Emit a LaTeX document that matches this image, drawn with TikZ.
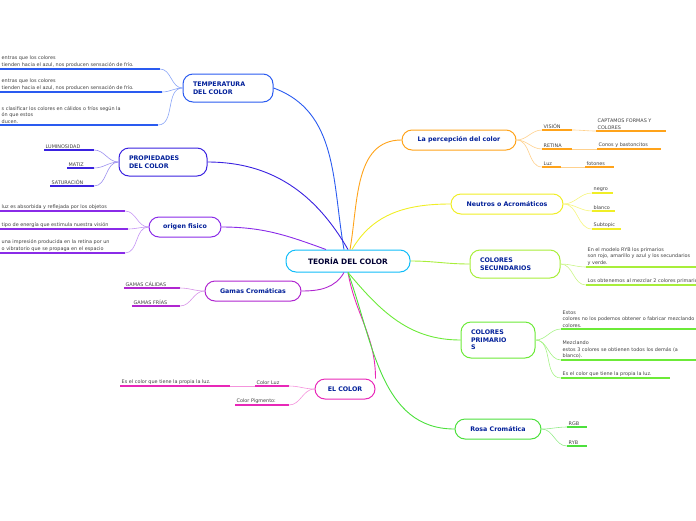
\documentclass[tikz,border=0pt]{standalone}
\usepackage{fontspec}
\setmainfont{DejaVu Sans}
\begin{document}
\begin{tikzpicture}[x=1pt,y=-1pt,
 hub/.style={draw=#1,line width=1pt,rounded corners=10pt,fill=white,font=\fontsize{6.3}{7.6}\selectfont\bfseries,text=black!70!green!40!blue,align=left,inner sep=0pt},
 lf/.style={font=\fontsize{4.9}{6.6}\selectfont,text=black!75,align=left,anchor=south west,inner sep=1.5pt},
 ln/.style={#1,line width=1.3pt},
 cn/.style={#1,line width=0.6pt}]
\useasboundingbox (0,0) rectangle (696,520);
\definecolor{cblue}{HTML}{2A5BF0}\definecolor{cviol}{HTML}{3A22E0}
\definecolor{cpurp}{HTML}{8A2BE8}\definecolor{cmag}{HTML}{B026D0}
\definecolor{cpink}{HTML}{E828B8}\definecolor{cgreen}{HTML}{4CE03C}
\definecolor{cgr2}{HTML}{6CEA38}\definecolor{clime}{HTML}{A8EE3A}
\definecolor{cyel}{HTML}{F0EE26}\definecolor{corg}{HTML}{FFA31A}
% hubs
\node[hub=cblue!40!cyan,minimum width=124pt,minimum height=22pt,align=center,font=\fontsize{7.4}{9}\selectfont\bfseries,text=black!80!blue] (c) at (348,261) {TEORÍA DEL COLOR};
\node[hub=cblue,minimum width=90pt,minimum height=28pt,text width=70pt] (t) at (228,88) {TEMPERATURA\\DEL COLOR};
\node[hub=cviol,minimum width=88pt,minimum height=28pt,text width=68pt] (p) at (163,162) {PROPIEDADES\\DEL COLOR};
\node[hub=cpurp,minimum width=72pt,minimum height=20pt,align=center] (o) at (185,227) {origen fisico};
\node[hub=cmag,minimum width=96pt,minimum height=20pt,align=center] (g) at (253,291) {Gamas Cromáticas};
\node[hub=cpink,minimum width=60pt,minimum height=20pt,align=center] (e) at (345,389) {EL COLOR};
\node[hub=cgreen,minimum width=86pt,minimum height=20pt,align=center] (r) at (498,429) {Rosa Cromática};
\node[hub=cgr2,minimum width=74pt,minimum height=36pt,text width=54pt] (pr) at (498,340) {COLORES\\PRIMARIO\\S};
\node[hub=clime,minimum width=90pt,minimum height=28pt,text width=70pt] (s) at (515,264) {COLORES\\SECUNDARIOS};
\node[hub=cyel,minimum width=112pt,minimum height=20pt,align=center] (n) at (507,204) {Neutros o Acromáticos};
\node[hub=corg,minimum width=114pt,minimum height=20pt,align=center] (l) at (459,140) {La percepción del color};
% central connectors
\begin{scope}[line width=0.9pt]
\draw[cblue] (c.north) ++(-4,0) coordinate(c1) (c1) to[out=100,in=-20] (t.east);
\draw[cviol] (c.north) to[out=120,in=0] (p.east);
\draw[cpurp] (c.north) ++(-22,0) coordinate(c2) (c2) to[out=160,in=0] (o.east);
\draw[cmag] (c.south) ++(-4,0) coordinate(c3) (c3) to[out=-120,in=0] (g.east);
\draw[cpink] (c.south) to[out=-80,in=90] (e.north east);
\draw[cgreen] (c.south) to[out=-70,in=180] (r.west);
\draw[cgr2] (c.south) to[out=-50,in=180] (pr.west);
\draw[clime] (c.east) to[out=0,in=180] (s.west);
\draw[cyel] (c.north) ++(4,0) coordinate(c4) (c4) to[out=60,in=180] (n.west);
\draw[corg] (c.north) ++(2,0) coordinate(c5) (c5) to[out=80,in=180] (l.west);
\end{scope}
\newcommand{\lfm}[6]{\coordinate (#1a) at (#2,#4);\coordinate (#1b) at (#3,#4);\draw[ln=#5] (#1a)--(#1b);\node[lf] (#1t) at (#2,#4) {#6};}
% temperature
\lfm{t1}{0}{160}{69}{cblue}{entras que los colores\\ tienden hacia el azul, nos producen sensación de frío.}
\lfm{t2}{0}{162}{92}{cblue}{entras que los colores\\ tienden hacia el azul, nos producen sensación de frío.}
\lfm{t3}{0}{158}{125}{cblue}{s clasificar los colores en cálidos o fríos según la\\ón que estos\\ducen.}
\foreach \i in {t1,t2,t3}\draw[cn=cblue!55] (t.west) to[out=180,in=0] (\i b);
% propiedades
\lfm{p1}{44}{94}{150}{cviol}{LUMINOSIDAD}
\lfm{p2}{67}{94}{168}{cviol}{MATIZ}
\lfm{p3}{50}{94}{186}{cviol}{SATURACIÓN}
\foreach \i in {p1,p2,p3}\draw[cn=cviol!50] (p.west) to[out=180,in=0] (\i b);
% origen
\lfm{o1}{0}{125}{211}{cpurp}{luz es absorbida y reflejada por los objetos}
\lfm{o2}{0}{128}{229}{cpurp}{tipo de energía que estimula nuestra visión}
\lfm{o3}{0}{125}{253}{cpurp}{una impresión producida en la retina por un\\o vibratorio que se propaga en el espacio}
\foreach \i in {o1,o2,o3}\draw[cn=cpurp!50] (o.west) to[out=180,in=0] (\i b);
% gamas
\lfm{g1}{124}{180}{288}{cmag}{GAMAS CÁLIDAS}
\lfm{g2}{132}{180}{306}{cmag}{GAMAS FRÍAS}
\foreach \i in {g1,g2}\draw[cn=cmag!50] (g.west) to[out=180,in=0] (\i b);
% el color
\lfm{e1}{255}{289}{386}{cpink}{Color Luz}
\lfm{e3}{120}{230}{386}{cpink}{Es el color que tiene la propia la luz.}
\lfm{e2}{235}{289}{405}{cpink}{Color Pigmento:}
\foreach \i in {e1,e2}\draw[cn=cpink!50] (e.west) to[out=180,in=0] (\i b);
\draw[cn=cpink!50] (e1a) -- (e3b);
% percepcion
\lfm{l1}{542}{572}{130}{corg}{VISIÓN}
\lfm{l2}{542}{572}{149}{corg}{RETINA}
\lfm{l3}{542}{561}{167}{corg}{Luz}
\lfm{l4}{596}{666}{131}{corg}{CAPTAMOS FORMAS Y\\COLORES}
\lfm{l5}{597}{661}{149}{corg}{Conos y bastoncitos}
\lfm{l6}{585}{614}{167}{corg}{fotones}
\foreach \i in {l1,l2,l3}\draw[cn=corg!50] (l.east) to[out=0,in=180] (\i a);
\draw[cn=corg!50] (l1b) to[out=0,in=180] (l4a);
\draw[cn=corg!50] (l2b) -- (l5a);
\draw[cn=corg!50] (l3b) -- (l6a);
% neutros
\lfm{n1}{592}{613}{193}{cyel}{negro}
\lfm{n2}{592}{615}{211}{cyel}{blanco}
\lfm{n3}{592}{621}{229}{cyel}{Subtopic}
\foreach \i in {n1,n2,n3}\draw[cn=cyel!60] (n.east) to[out=0,in=180] (\i a);
% secundarios
\lfm{s1}{586}{696}{267}{clime}{En el modelo RYB los primarios\\son rojo, amarillo y azul y los secundarios\\y verde.}
\lfm{s2}{586}{696}{285}{clime}{Los obtenemos al mezclar 2 colores primarios}
\foreach \i in {s1,s2}\draw[cn=clime!60] (s.east) to[out=0,in=180] (\i a);
% primarios
\lfm{r1}{561}{696}{329}{cgr2}{Estos\\colores no los podemos obtener o fabricar mezclando\\colores.}
\lfm{r2}{561}{696}{360}{cgr2}{Mezclando\\estos 3 colores se obtienen todos los demás (a\\blanco).}
\lfm{r3}{561}{670}{378}{cgr2}{Es el color que tiene la propia la luz.}
\foreach \i in {r1,r2,r3}\draw[cn=cgr2!60] (pr.east) to[out=0,in=180] (\i a);
% rosa
\lfm{q1}{567}{587}{427}{cgreen}{RGB}
\lfm{q2}{567}{587}{446}{cgreen}{RYB}
\foreach \i in {q1,q2}\draw[cn=cgreen!60] (r.east) to[out=0,in=180] (\i a);
\end{tikzpicture}
\end{document}
